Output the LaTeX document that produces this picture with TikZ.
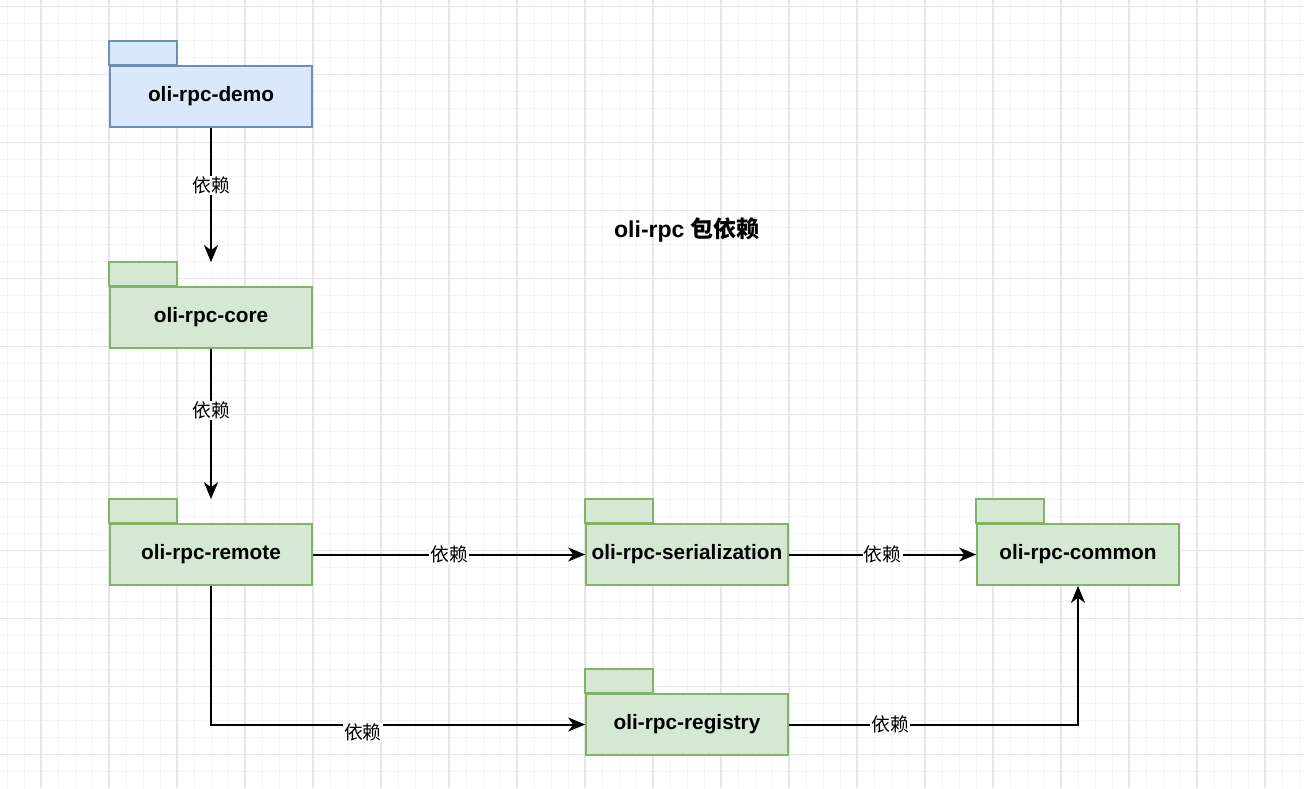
\documentclass[tikz,border=0pt]{standalone}
\usepackage{fontspec}
\setmainfont{Liberation Sans}
\newfontfamily\cjk{Noto Sans CJK SC}
\usepackage{xcolor}
\usepackage{tikz}
\usetikzlibrary{arrows.meta}
\usetikzlibrary{calc}
\definecolor{pkgfill}{HTML}{D5E8D4}
\definecolor{pkgline}{HTML}{82B366}
\definecolor{demofill}{HTML}{DAE8FC}
\definecolor{demoline}{HTML}{6C8EBF}
\definecolor{gridminor}{HTML}{F4F4F4}
\definecolor{gridmajor}{HTML}{E6E6E6}
\tikzstyle{pkg} = [draw=pkgline, fill=pkgfill, line width=0.85pt, rectangle, minimum width=101pt, minimum height=30.5pt, inner sep=0pt, font=\fontsize{10.4}{12}\selectfont\bfseries]
\tikzstyle{demopkg} = [pkg, draw=demoline, fill=demofill]
\tikzstyle{pkgtab} = [draw=pkgline, fill=pkgfill, line width=0.85pt]
\tikzstyle{dep} = [line width=1pt, -{Stealth[length=8.5pt, width=7pt, inset=2.5pt]}]
\tikzstyle{deplabel} = [fill=white, inner sep=0.6pt, font=\fontsize{9.4}{11}\selectfont\cjk]

\begin{document}
\begin{tikzpicture}[x=0.5pt, y=-0.5pt]
\useasboundingbox (0,0) rectangle (1304,788);
\fill[white] (0,0) rectangle (1304,788);
% grid
\foreach \gx in {7,24,...,1304} \draw[gridminor, line width=0.5pt] (\gx,0) -- (\gx,788);
\foreach \gy in {6.7,23.7,...,788} \draw[gridminor, line width=0.5pt] (0,\gy) -- (1304,\gy);
\foreach \gx in {41,109,...,1304} \draw[gridmajor, line width=0.6pt] (\gx,0) -- (\gx,788);
\foreach \gy in {6.7,74.7,...,788} \draw[gridmajor, line width=0.6pt] (0,\gy) -- (1304,\gy);

\node[font=\fontsize{11.5}{14}\selectfont\bfseries] (title) at (687,230) {oli-rpc {\cjk 包依赖}};

% packages
\node[demopkg] (demo) at (211,96.5) {oli-rpc-demo};
\node[pkg] (core) at (211,317.5) {oli-rpc-core};
\node[pkg] (remote) at (211,554.5) {oli-rpc-remote};
\node[pkg] (serialization) at (687,554.5) {oli-rpc-serialization};
\node[pkg] (common) at (1078,554.5) {oli-rpc-common};
\node[pkg] (registry) at (687,724.5) {oli-rpc-registry};

\draw[pkgtab, draw=demoline, fill=demofill] (demo.north west) rectangle ++(34pt,12pt);
\foreach \n in {core,remote,serialization,common,registry}
  \draw[pkgtab] (\n.north west) rectangle ++(34pt,12pt);

% dependencies
\draw[dep] (demo) -- node[deplabel, pos=0.43] {依赖} ($(core.north)+(0,12pt)$);
\draw[dep] (core) -- node[deplabel, pos=0.41] {依赖} ($(remote.north)+(0,12pt)$);
\draw[dep] (remote) -- node[deplabel] {依赖} (serialization);
\draw[dep] (serialization) -- node[deplabel] {依赖} (common);
\draw[dep] (remote.south) |- node[deplabel, pos=0.703, yshift=-4pt] {依赖} (registry.west);
\draw[dep] (registry.east) -| node[deplabel, pos=0.175] {依赖} (common.south);
\end{tikzpicture}
\end{document}
